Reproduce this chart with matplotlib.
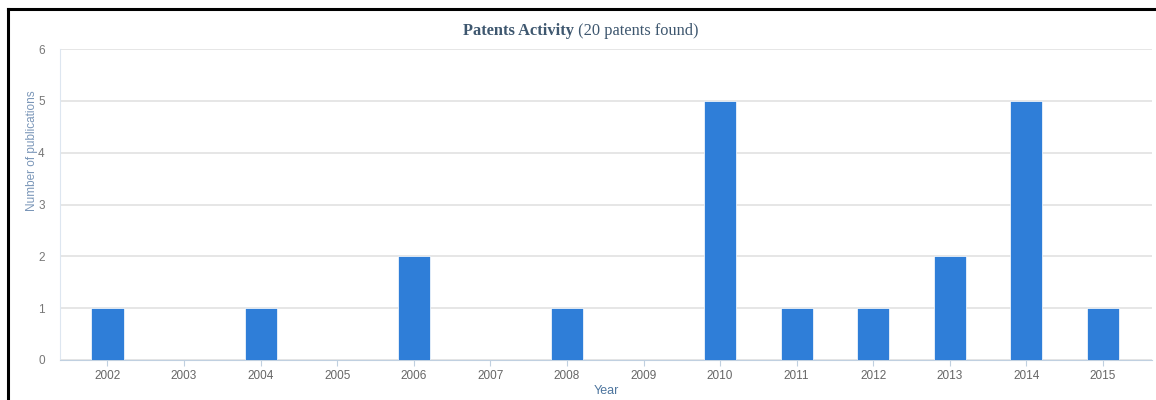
import matplotlib.pyplot as plt
from matplotlib.lines import Line2D

years = ['2002', '2003', '2004', '2005', '2006', '2007', '2008',
         '2009', '2010', '2011', '2012', '2013', '2014', '2015']
counts = [1, 0, 1, 0, 2, 0, 1, 0, 5, 1, 1, 2, 5, 1]

fig = plt.figure(figsize=(11.56, 4.0), dpi=100)
ax = fig.add_axes([60 / 1156, 40 / 400, 1092 / 1156, 311 / 400])

x = list(range(len(years)))
ax.bar(x, counts, width=0.42, color='#2f7ed8', edgecolor='white', linewidth=0.5, zorder=3)

ax.set_xlim(-0.62, len(years) - 0.36)
ax.set_ylim(0, 6)
ax.set_yticks(range(0, 7))
ax.set_xticks(x)
ax.set_xticklabels(years)

ax.grid(axis='y', color='#e2e2e2', linewidth=1.2, zorder=0)
for s in ['top', 'right']:
    ax.spines[s].set_visible(False)
ax.spines['left'].set_color('#dde6f0')
ax.spines['bottom'].set_color('#c0d0e0')
ax.tick_params(axis='y', length=0, pad=11, labelsize=8.5, labelcolor='#777777')
ax.tick_params(axis='x', length=4, color='#c0d0e0', pad=3, labelsize=8.5, labelcolor='#666666')
for lab in ax.get_xticklabels() + ax.get_yticklabels():
    lab.set_family('Liberation Sans')

ax.set_ylabel('Number of publications', family='Liberation Sans', fontsize=8.5,
              color='#7a96b8')
ax.yaxis.set_label_coords(-0.020, 0.672)
ax.set_xlabel('Year', family='Liberation Sans', fontsize=9, color='#4d759e', labelpad=2)

# title in two parts
t1 = fig.text(463 / 1156, 1 - 31 / 400, 'Patents Activity', family='Liberation Serif',
              fontweight='bold', fontsize=11.8, color='#3e576f', va='center', ha='left')
ax.annotate(' (20 patents found)', xy=(1, 0), xycoords=t1, va='bottom', ha='left',
            family='Liberation Serif', fontsize=11.8, color='#3e576f')

# black frame on top and left
fig.add_artist(Line2D([8 / 1156, 1], [1 - 9 / 400, 1 - 9 / 400], color='black',
                      linewidth=2.2, transform=fig.transFigure))
fig.add_artist(Line2D([8 / 1156, 8 / 1156], [0, 1 - 9 / 400], color='black',
                      linewidth=2.2, transform=fig.transFigure))

fig.savefig('out.png', dpi=100)
